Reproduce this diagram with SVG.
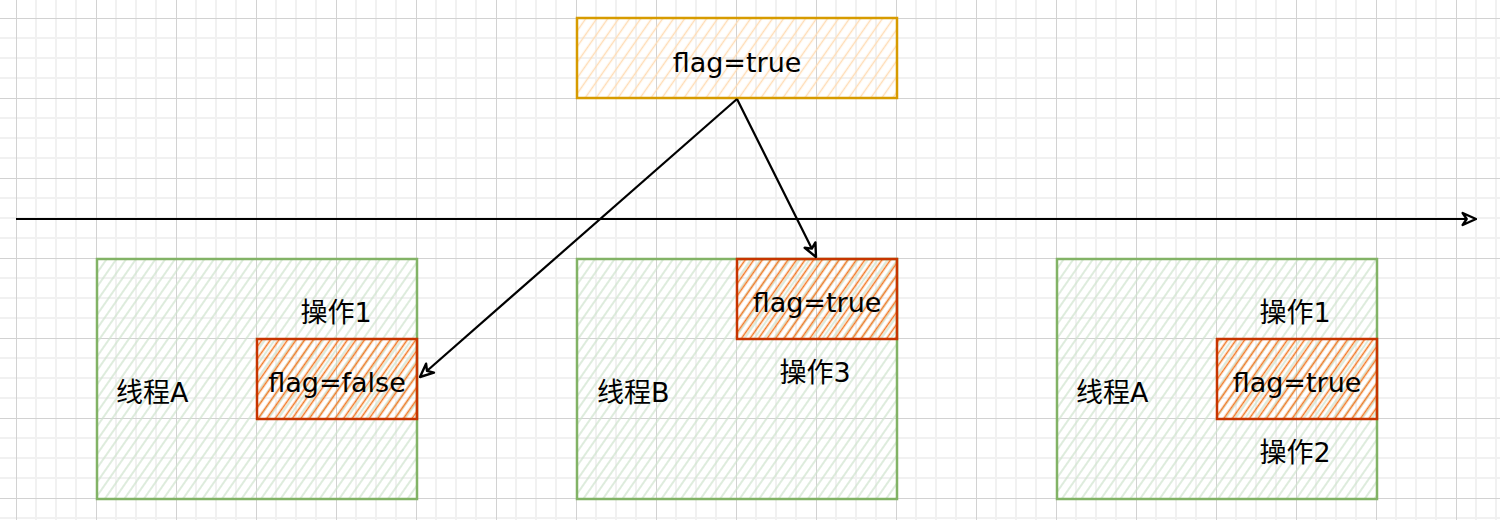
<svg xmlns="http://www.w3.org/2000/svg" width="1500" height="520" viewBox="0 0 1500 520">
  <defs>
    <pattern id="grid" patternUnits="userSpaceOnUse" x="16" y="18" width="80" height="80">
      <path d="M20,0V80M40,0V80M60,0V80M0,20H80M0,40H80M0,60H80" stroke="#f1f1f1" stroke-width="2" fill="none"/>
      <path d="M0.5,0V80M0,0.5H80" stroke="#d2d2d2" stroke-width="1" fill="none"/>
    </pattern>
    <pattern id="hGreen" patternUnits="userSpaceOnUse" width="8" height="8" patternTransform="rotate(35)">
      <line x1="4" y1="0" x2="4" y2="8" stroke="#d0e4ce" stroke-width="1.4"/>
    </pattern>
    <pattern id="hOrange" patternUnits="userSpaceOnUse" width="7" height="7" patternTransform="rotate(35)">
      <line x1="3.5" y1="0" x2="3.5" y2="7" stroke="#f27a26" stroke-width="1.6"/>
    </pattern>
    <pattern id="hPeach" patternUnits="userSpaceOnUse" width="9" height="9" patternTransform="rotate(35)">
      <line x1="4.5" y1="0" x2="4.5" y2="9" stroke="#ffdcb5" stroke-width="1.5"/>
    </pattern>
    <marker id="arr" viewBox="0 0 12 12" refX="11" refY="6" markerWidth="16" markerHeight="16" markerUnits="userSpaceOnUse" orient="auto">
      <path d="M1,1.5 L11,6 L1,10.5 L4,6 Z" fill="#fff" stroke="#000" stroke-width="1.8" stroke-linejoin="round"/>
    </marker>
    <style>
      .txt { font-family: "DejaVu Sans", "Noto Sans CJK SC", sans-serif; font-size: 27px; fill: #000; }
      .green { fill: url(#hGreen); stroke: #82b366; stroke-width: 2.5; }
      .red { fill: url(#hOrange); stroke: #c73500; stroke-width: 2.5; }
      .gold { fill: url(#hPeach); stroke: #d79b00; stroke-width: 2.5; }
      .conn { stroke: #000; stroke-width: 2.2; fill: none; marker-end: url(#arr); }
    </style>
  </defs>

  <rect x="0" y="0" width="1500" height="520" fill="#fff"/>
  <rect x="0" y="0" width="1500" height="520" fill="url(#grid)"/>

  <g id="threadA1">
    <rect class="green" x="97" y="259" width="320" height="240"/>
    <text class="txt" x="116" y="392" dominant-baseline="central">线程A</text>
    <text class="txt" x="336" y="312" text-anchor="middle" dominant-baseline="central">操作1</text>
  </g>
  <g id="flagFalseA">
    <rect class="red" x="257" y="339" width="160" height="80"/>
    <text class="txt" x="337" y="382" text-anchor="middle" dominant-baseline="central">flag=false</text>
  </g>

  <g id="threadB">
    <rect class="green" x="577" y="259" width="320" height="240"/>
    <text class="txt" x="597" y="392" dominant-baseline="central">线程B</text>
    <text class="txt" x="815" y="372" text-anchor="middle" dominant-baseline="central">操作3</text>
  </g>
  <g id="flagTrueB">
    <rect class="red" x="737" y="259" width="160" height="80"/>
    <text class="txt" x="817" y="302" text-anchor="middle" dominant-baseline="central">flag=true</text>
  </g>

  <g id="threadA2">
    <rect class="green" x="1057" y="259" width="320" height="240"/>
    <text class="txt" x="1076" y="392" dominant-baseline="central">线程A</text>
    <text class="txt" x="1295" y="312" text-anchor="middle" dominant-baseline="central">操作1</text>
    <text class="txt" x="1295" y="452" text-anchor="middle" dominant-baseline="central">操作2</text>
  </g>
  <g id="flagTrueA2">
    <rect class="red" x="1217" y="339" width="160" height="80"/>
    <text class="txt" x="1297" y="382" text-anchor="middle" dominant-baseline="central">flag=true</text>
  </g>

  <g id="mainFlag">
    <rect class="gold" x="577" y="18" width="320" height="80"/>
    <text class="txt" x="737" y="62" text-anchor="middle" dominant-baseline="central">flag=true</text>
  </g>

  <g id="connectors">
    <line class="conn" x1="16" y1="219" x2="1476" y2="219"/>
    <line class="conn" x1="737" y1="99" x2="816" y2="257"/>
    <line class="conn" x1="737" y1="99" x2="420" y2="377"/>
  </g>
</svg>
